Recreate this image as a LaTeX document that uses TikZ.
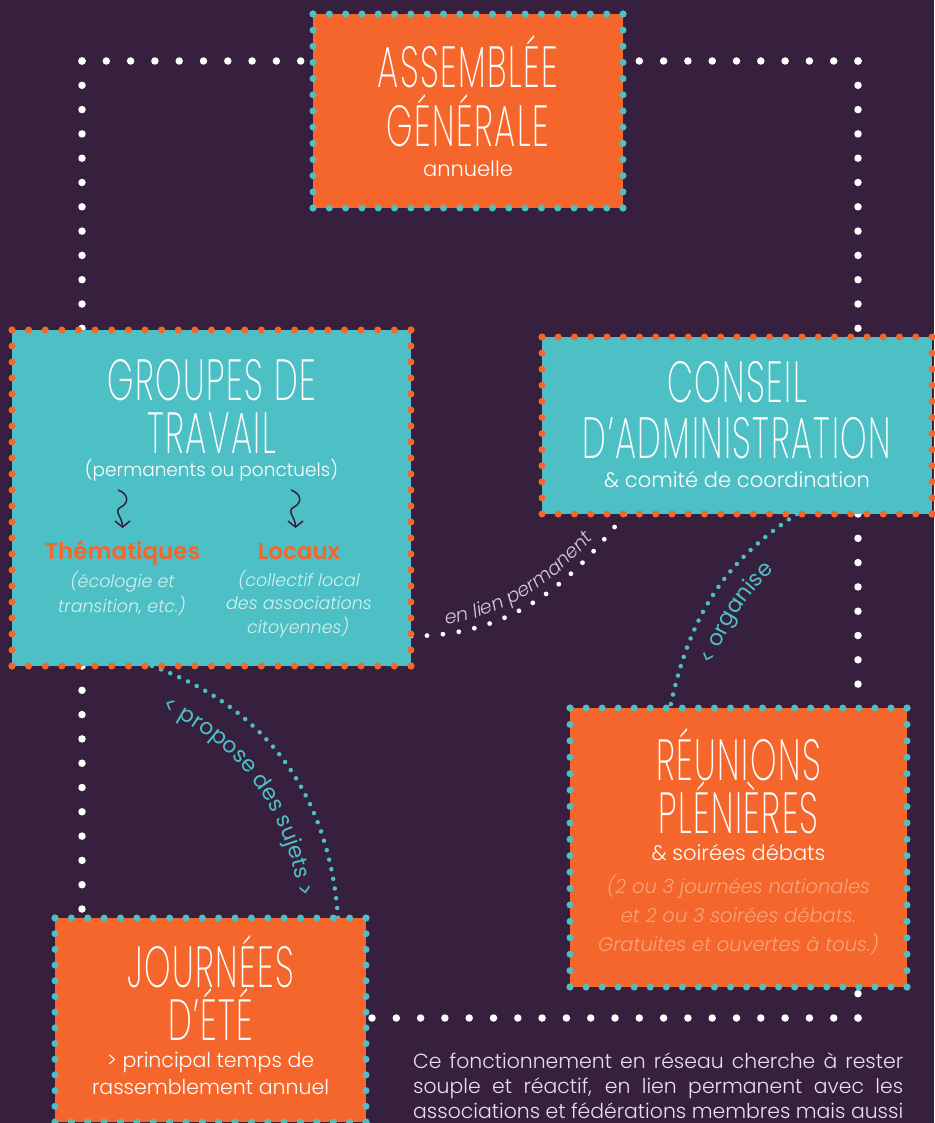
\documentclass[tikz,border=0pt]{standalone}
\usepackage{fontspec}
\def\pmain{Poppins}\IfFontExistsTF{Poppins Light}{\def\pmain{Poppins Light}}{}
\def\pital{Poppins Italic}\IfFontExistsTF{Poppins Light Italic}{\def\pital{Poppins Light Italic}}{}
\def\pbold{Poppins Bold}\IfFontExistsTF{Poppins SemiBold}{\def\pbold{Poppins SemiBold}}{}
\def\pthin{\pmain}\IfFontExistsTF{Poppins ExtraLight}{\def\pthin{Poppins ExtraLight}}{}
\setmainfont{\pmain}[ItalicFont=\pital, BoldFont=\pbold]
\newfontfamily\titlefont{\pthin}[FakeStretch=0.58, LetterSpace=2.5]
\newfontfamily\labelfont{Poppins}
\usepackage{xcolor}
\definecolor{bgpurple}{HTML}{37203D}
\definecolor{boxorange}{HTML}{F4662B}
\definecolor{boxteal}{HTML}{4DC0C5}
\definecolor{noteteal}{HTML}{D5F0F1}
\definecolor{noteorange}{HTML}{F9A47C}
\definecolor{lienc}{HTML}{D3CBD6}
\definecolor{parac}{HTML}{E8E0EA}
\usetikzlibrary{positioning, calc, arrows.meta, decorations.text}

% dotted frame round a box: one dash period per side, so corners get a dot
\newcommand\dotframe[2]{%
  \foreach \fa/\fb in {north west/north east,north east/south east,south east/south west,south west/north west}{
    \path let \p1=(#1.\fa), \p2=(#1.\fb), \n1={veclen(\x2-\x1,\y2-\y1)} in
      \pgfextra{\pgfmathsetmacro\dotgap{\n1/round(\n1/16.3)}\xdef\dotgap{\dotgap}};
    \draw[#2, line width=7pt, line cap=round, dash pattern=on 0pt off \dotgap pt] (#1.\fa) -- (#1.\fb);
  }}

\begin{document}
\begin{tikzpicture}[x=1pt, y=1pt,
  box/.style={rectangle, inner sep=0pt, outer sep=0pt},
  headtext/.style={font=\titlefont\fontsize{58}{58}\selectfont, text=white, inner sep=0pt, anchor=base},
  subtext/.style={font=\fontsize{21}{24}\selectfont, text=white, inner sep=0pt, anchor=base},
  notetext/.style={font=\itshape\fontsize{17.5}{20}\selectfont, inner sep=0pt, anchor=base},
  cattext/.style={font=\bfseries\fontsize{23}{26}\selectfont, text=boxorange, inner sep=0pt, anchor=base},
  wdots/.style={white, line width=7.5pt, line cap=round, dash pattern=on 0pt off 24.3pt},
  tdots/.style={boxteal, line width=4.5pt, line cap=round, dash pattern=on 0pt off 9.8pt},
  ldots/.style={white, line width=4.8pt, line cap=round, dash pattern=on 0pt off 16pt},
  squig/.style={bgpurple, line width=1.5pt, -{Straight Barb[length=6pt, width=15pt]}}]

  \useasboundingbox (0,0) rectangle (934,-1123);
  \fill[bgpurple] (0,0) rectangle (934,-1123);

  % boxes (empty, texts come later)
  \path node[box, minimum width=310pt, minimum height=194pt] (ag) at (468,-111) {}
        node[box, minimum width=399pt, minimum height=336pt] (gt) at (211.5,-498) {}
        node[box, minimum width=390pt, minimum height=177pt] (ca) at (737,-425.5) {}
        node[box, minimum width=337pt, minimum height=279pt] (rp) at (738.5,-847.5) {}
        node[box, minimum width=311pt, minimum height=204pt] (je) at (210.5,-1020) {};

  % white dotted links
  \coordinate (tl) at (82,-61);
  \coordinate (tr) at (858,-61);
  \coordinate (br) at (858,-1018);
  \draw[wdots] (tl) -- (tl -| ag.west);
  \draw[wdots] (tl) -- (tl |- gt.north);
  \draw[wdots] (tr) -- (tr -| ag.east);
  \draw[wdots] (tr) -- (tr |- ca.north);
  \draw[wdots] ([xshift=70pt]gt.south west) -- ([xshift=27pt]je.north west);
  \draw[wdots] ([xshift=-74pt]ca.south east) -- ([xshift=-49pt]rp.north east);
  \draw[wdots] (br) -- (br |- rp.south);
  \draw[wdots] (br) -- (br -| je.east);

  % curved links
  \coordinate (lienA) at ([yshift=30pt]gt.south east);
  \coordinate (lienB) at ([xshift=83pt]ca.south west);
  \coordinate (orgA) at ([xshift=-135pt]ca.south east);
  \coordinate (orgB) at ([xshift=100pt]rp.north west);
  \coordinate (propA) at ([xshift=140pt]gt.south west);
  \coordinate (propB) at ([xshift=-28pt]je.north east);
  \draw[ldots] (lienA) to[out=0, in=232] (lienB);
  \draw[tdots] (orgA) to[out=213, in=78] (orgB);
  \draw[tdots] (propA) to[out=-20, in=94] (propB);
  % their labels, on parallel paths beside them
  \path[decorate, decoration={text along path, text align=center,
    text={|\color{lienc}\itshape\fontsize{19}{21}\selectfont|en lien permanent}}]
    ([shift={(-4pt,9pt)}]lienA) to[out=0, in=232] ([shift={(-7pt,5pt)}]lienB);
  \path[decorate, decoration={text along path, text align=center,
    text={|\color{boxteal}\labelfont\fontsize{22}{24}\selectfont|< organise}}]
    ([shift={(30pt,-6pt)}]orgB) to[out=78, in=213] ([shift={(17pt,-26pt)}]orgA);
  \path[decorate, decoration={text along path, text align=center,
    text={|\color{boxteal}\labelfont\fontsize{22}{24}\selectfont|< propose des sujets >}}]
    ([shift={(-12pt,-35pt)}]propA) to[out=-20, in=94] ([shift={(-37pt,-2pt)}]propB);

  % fills and dotted frames
  \fill[boxorange] (ag.north west) rectangle (ag.south east);
  \fill[boxteal] (gt.north west) rectangle (gt.south east);
  \fill[boxteal] (ca.north west) rectangle (ca.south east);
  \fill[boxorange] (rp.north west) rectangle (rp.south east);
  \fill[boxorange] (je.north west) rectangle (je.south east);
  \dotframe{ag}{boxteal}
  \dotframe{gt}{boxorange}
  \dotframe{ca}{boxorange}
  \dotframe{rp}{boxteal}
  \dotframe{je}{boxteal}

  % Assemblee generale
  \node[headtext] (agl1) at ([yshift=-74pt]ag.north) {ASSEMBLÉE};
  \node[headtext] (agl2) at ([yshift=-133pt]ag.north) {GÉNÉRALE};
  \node[subtext] (agsub) at ([yshift=-163pt]ag.north) {annuelle};

  % Groupes de travail
  \node[headtext] (gtl1) at ([yshift=-70pt]gt.north) {GROUPES DE};
  \node[headtext] (gtl2) at ([yshift=-123pt]gt.north) {TRAVAIL};
  \node[subtext, font=\fontsize{18.5}{22}\selectfont] (gtsub) at ([yshift=-146pt]gt.north) {(permanents ou ponctuels)};
  \foreach \sx in {0,173}
    \draw[squig, xshift=\sx pt] (118,-490) .. controls (129,-494) and (129,-503) .. (121,-507)
      .. controls (113,-511) and (122.5,-517) .. (122.5,-528);
  \node[cattext] (them) at ([shift={(110.5pt,-229pt)}]gt.north west) {Thématiques};
  \node[notetext, text=noteteal] (themn1) at ([shift={(110.5pt,-257pt)}]gt.north west) {(écologie et};
  \node[notetext, text=noteteal] (themn2) at ([shift={(110pt,-282pt)}]gt.north west) {transition, etc.)};
  \node[cattext] (loc) at ([shift={(287pt,-229pt)}]gt.north west) {Locaux};
  \node[notetext, text=noteteal] (locn1) at ([shift={(287pt,-256pt)}]gt.north west) {(collectif local};
  \node[notetext, text=noteteal] (locn2) at ([shift={(287pt,-279pt)}]gt.north west) {des associations};
  \node[notetext, text=noteteal] (locn3) at ([shift={(286pt,-303pt)}]gt.north west) {citoyennes)};

  % Conseil d'administration
  \node[headtext] (cal1) at ([yshift=-65pt]ca.north) {CONSEIL};
  \node[headtext] (cal2) at ([yshift=-121pt]ca.north) {D’ADMINISTRATION};
  \node[subtext] (casub) at ([yshift=-150pt]ca.north) {\& comité de coordination};

  % Reunions plenieres
  \node[headtext] (rpl1) at ([yshift=-72pt]rp.north) {RÉUNIONS};
  \node[headtext] (rpl2) at ([yshift=-125pt]rp.north) {PLÉNIÈRES};
  \node[subtext] (rpsub) at ([yshift=-152pt]rp.north) {\& soirées débats};
  \node[notetext, text=noteorange, font=\itshape\fontsize{19.5}{22}\selectfont] (rpn1) at ([yshift=-185pt]rp.north) {(2 ou 3 journées nationales};
  \node[notetext, text=noteorange, font=\itshape\fontsize{19.5}{22}\selectfont] (rpn2) at ([yshift=-214pt]rp.north) {et 2 ou 3 soirées débats.};
  \node[notetext, text=noteorange, font=\itshape\fontsize{19.5}{22}\selectfont] (rpn3) at ([yshift=-243pt]rp.north) {Gratuites et ouvertes à tous.)};

  % Journees d'ete
  \node[headtext] (jel1) at ([yshift=-69pt]je.north) {JOURNÉES};
  \node[headtext] (jel2) at ([yshift=-122pt]je.north) {D’ÉTÉ};
  \node[subtext, font=\fontsize{20.5}{24}\selectfont] (jesub1) at ([yshift=-149pt]je.north) {> principal temps de};
  \node[subtext, font=\fontsize{20.5}{24}\selectfont] (jesub2) at ([yshift=-176pt]je.north) {rassemblement annuel};

  % closing paragraph
  \node[anchor=base west, inner sep=0pt, text width=490pt, align=justify, text=parac,
        font=\fontsize{20.4}{25}\selectfont] (para) at (413,-1068)
    {Ce fonctionnement en réseau cherche à rester\linebreak
     souple et réactif, en lien permanent avec les\linebreak
     associations et fédérations membres mais aussi\parfillskip=0pt\par};
\end{tikzpicture}
\end{document}
